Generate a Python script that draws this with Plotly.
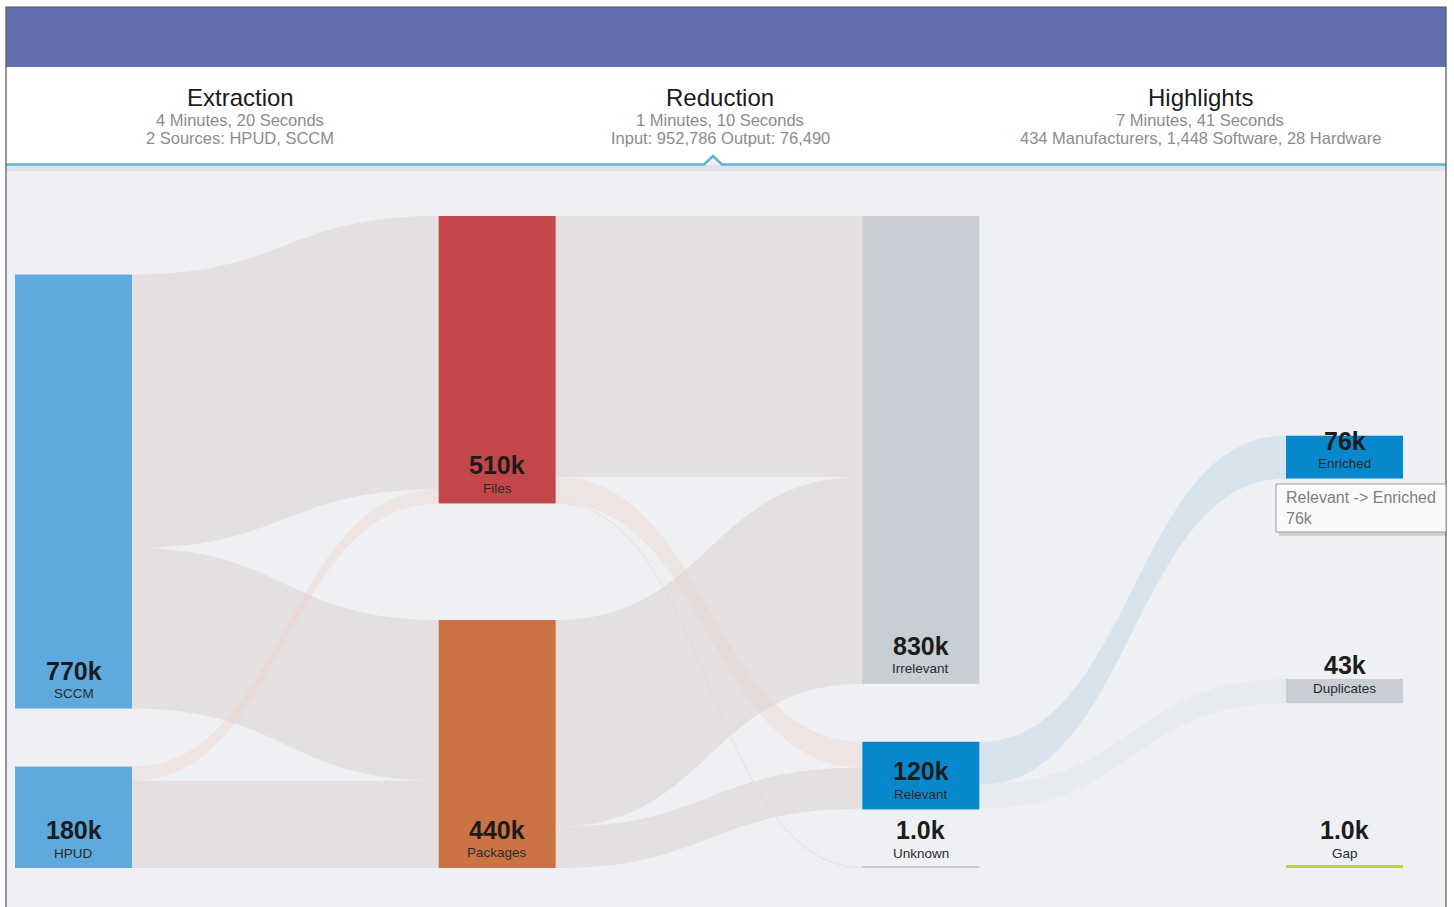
import plotly.graph_objects as go

# ------------------------------------------------------------------ data
node_names = ["SCCM", "HPUD", "Files", "Packages", "Irrelevant", "Relevant",
              "Unknown", "Enriched", "Duplicates", "Gap"]
node_stage = [0, 0, 1, 1, 2, 2, 2, 3, 3, 3]

link_source = ["SCCM", "SCCM", "HPUD", "HPUD",
               "Files", "Files", "Files", "Packages", "Packages",
               "Relevant", "Relevant", "Relevant"]
link_target = ["Files", "Packages", "Files", "Packages",
               "Irrelevant", "Relevant", "Unknown", "Irrelevant", "Relevant",
               "Enriched", "Duplicates", "Gap"]
link_value_k = [485, 285, 25, 155, 463, 46, 1, 367, 73, 76, 43, 1]

stage_titles = ["Extraction", "Reduction", "Highlights"]
stage_line1 = ["4 Minutes, 20 Seconds", "1 Minutes, 10 Seconds", "7 Minutes, 41 Seconds"]
stage_line2 = ["2 Sources: HPUD, SCCM", "Input: 952,786 Output: 76,490",
               "434 Manufacturers, 1,448 Software, 28 Hardware"]

tooltip_link = ("Relevant", "Enriched")

# ------------------------------------------------------------------ style / layout
FIG_W, FIG_H = 1454, 907
SK_X0, SK_X1, SK_Y0, SK_Y1 = 15, 1403, 216, 868
THICK, PAD = 117, 58
N_STAGES = 4
COLUMN_ALIGN = ["bottom", "spread", "top", "manual"]
MANUAL_ANCHOR = {"Enriched": ("top", 0.337), "Duplicates": ("top", 0.710), "Gap": ("bottom", 1.0)}

NODE_COLORS = ["#5eaadf", "#5eaadf", "#c3474a", "#cc7345", "#c9cdd4", "#0888cc",
               "#c8ccd2", "#0888cc", "#c9cdd4", "#b9cd48"]
# thin nodes get a visible accent rule along their bottom edge
ACCENT = {"Unknown": ("#c8ccd2", 2), "Gap": ("#b9cd48", 3)}
BASE = "rgba(220,209,207,0.55)"
PEACH = "rgba(238,208,196,0.38)"
LINK_COLORS = [BASE, BASE, PEACH, BASE, BASE, PEACH, "rgba(238,208,196,0.25)", BASE, BASE,
               "rgba(200,218,233,0.6)", "rgba(218,222,228,0.28)", "rgba(218,222,228,0.0)"]

FONT = "Arial, Liberation Sans, sans-serif"
BG = "#eef0f3"

# ------------------------------------------------------------------ derived geometry
idx = {n: i for i, n in enumerate(node_names)}
src = [idx[s] for s in link_source]
tgt = [idx[t] for t in link_target]
n_nodes = len(node_names)
v_in = [0] * n_nodes
v_out = [0] * n_nodes
for s, t, v in zip(src, tgt, link_value_k):
    v_out[s] += v
    v_in[t] += v
node_val = [max(a, b) for a, b in zip(v_in, v_out)]

Wd = SK_X1 - SK_X0
Hd = SK_Y1 - SK_Y0
cols = {c: [i for i, s in enumerate(node_stage) if s == c] for c in range(N_STAGES)}
ky = min((Hd - (len(ix) - 1) * PAD) / sum(node_val[i] for i in ix) for ix in cols.values())
h = [v * ky for v in node_val]
top = [0.0] * n_nodes
for c, ix in cols.items():
    mode = COLUMN_ALIGN[c]
    if mode == "top":
        y = 0.0
        for i in ix:
            top[i] = y
            y += h[i] + PAD
    elif mode == "bottom":
        y = Hd
        for i in reversed(ix):
            top[i] = y - h[i]
            y = top[i] - PAD
    elif mode == "spread":
        gap = (Hd - sum(h[i] for i in ix)) / max(len(ix) - 1, 1)
        y = 0.0
        for i in ix:
            top[i] = y
            y += h[i] + gap
    else:
        for i in ix:
            kind, f = MANUAL_ANCHOR[node_names[i]]
            top[i] = f * Hd if kind == "top" else f * Hd - h[i]

col_x0 = [c * (Wd - THICK) / (N_STAGES - 1) for c in range(N_STAGES)]
node_x = [(col_x0[node_stage[i]] + THICK / 2) / Wd for i in range(n_nodes)]
node_y = [(top[i] + h[i] / 2) / Hd for i in range(n_nodes)]


def fx(px):
    return px / FIG_W


def fy(py):
    return 1 - py / FIG_H


def fmt_k(v):
    return f"{v:.0f}k" if v >= 10 else f"{v:.1f}k"


fig = go.Figure(go.Sankey(
    arrangement="fixed",
    domain=dict(x=[fx(SK_X0), fx(SK_X1)], y=[fy(SK_Y1), fy(SK_Y0)]),
    node=dict(
        label=[""] * n_nodes,
        customdata=node_names,
        hovertemplate="%{customdata}: %{value}k<extra></extra>",
        color=NODE_COLORS,
        line=dict(color="rgba(0,0,0,0)", width=0),
        thickness=THICK,
        pad=PAD,
        align="left",
        x=node_x,
        y=node_y,
    ),
    link=dict(source=src, target=tgt, value=link_value_k, color=LINK_COLORS,
              hovertemplate="%{source.customdata} -> %{target.customdata}<br>%{value}k<extra></extra>"),
))

shapes = []
ann = []

# white outer margins and header
shapes.append(dict(type="rect", xref="paper", yref="paper", x0=0, x1=1, y0=fy(0), y1=fy(7),
                   fillcolor="white", line_width=0, layer="below"))
shapes.append(dict(type="rect", xref="paper", yref="paper", x0=0, x1=fx(6), y0=0, y1=1,
                   fillcolor="white", line_width=0, layer="below"))
shapes.append(dict(type="rect", xref="paper", yref="paper", x0=fx(1446), x1=1, y0=0, y1=1,
                   fillcolor="white", line_width=0, layer="below"))
shapes.append(dict(type="rect", xref="paper", yref="paper", x0=fx(6), x1=fx(1446), y0=fy(67), y1=fy(7),
                   fillcolor="#6470ae", line_width=0, layer="below"))
shapes.append(dict(type="rect", xref="paper", yref="paper", x0=fx(6), x1=fx(1446), y0=fy(164), y1=fy(67),
                   fillcolor="white", line_width=0, layer="below"))
# shadow under the blue rule
shapes.append(dict(type="rect", xref="paper", yref="paper", x0=fx(6), x1=fx(1446), y0=fy(171), y1=fy(165),
                   fillcolor="rgba(120,130,140,0.12)", line_width=0, layer="below"))
# caret fill
shapes.append(dict(type="path", xref="paper", yref="paper",
                   path=f"M {fx(704)} {fy(164.5)} L {fx(713)} {fy(156)} L {fx(722)} {fy(164.5)} Z",
                   fillcolor=BG, line_width=0, layer="below"))
# blue rule with caret
shapes.append(dict(type="path", xref="paper", yref="paper",
                   path=(f"M {fx(6)} {fy(164.5)} L {fx(704)} {fy(164.5)} L {fx(713)} {fy(156)} "
                         f"L {fx(722)} {fy(164.5)} L {fx(1446)} {fy(164.5)}"),
                   line=dict(color="#5ab4dc", width=2.5), layer="below"))
# frame
shapes.append(dict(type="path", xref="paper", yref="paper",
                   path=f"M {fx(6)} {fy(910)} L {fx(6)} {fy(7)} L {fx(1446)} {fy(7)} L {fx(1446)} {fy(910)}",
                   line=dict(color="#555555", width=1.2), layer="below"))

# stage headers
for i, (t, l1, l2) in enumerate(zip(stage_titles, stage_line1, stage_line2)):
    cx = 0 + (i + 0.5) * 480
    ann.append(dict(x=fx(cx), y=fy(97), text=t, showarrow=False, xanchor="center", yanchor="middle",
                    font=dict(family=FONT, size=24, color="#1a1a1a")))
    ann.append(dict(x=fx(cx), y=fy(120), text=l1, showarrow=False, xanchor="center", yanchor="middle",
                    font=dict(family=FONT, size=16.5, color="#8c8c8c")))
    ann.append(dict(x=fx(cx), y=fy(138), text=l2, showarrow=False, xanchor="center", yanchor="middle",
                    font=dict(family=FONT, size=16.5, color="#8c8c8c")))

# node labels (inside / above node bottoms) and accents for thin nodes
for i in range(n_nodes):
    x_left = SK_X0 + col_x0[node_stage[i]]
    cx = x_left + THICK / 2
    bottom = SK_Y0 + top[i] + h[i]
    ann.append(dict(x=fx(cx), y=fy(bottom - 38), text=f"<b>{fmt_k(node_val[i])}</b>", showarrow=False,
                    xanchor="center", yanchor="middle", font=dict(family=FONT, size=25, color="#1c1c1c")))
    ann.append(dict(x=fx(cx), y=fy(bottom - 15), text=node_names[i], showarrow=False,
                    xanchor="center", yanchor="middle", font=dict(family=FONT, size=13.5, color="#2a2a2a")))
    if node_names[i] in ACCENT:
        col, w = ACCENT[node_names[i]]
        shapes.append(dict(type="line", xref="paper", yref="paper",
                           x0=fx(x_left), x1=fx(x_left + THICK), y0=fy(bottom - w / 2), y1=fy(bottom - w / 2),
                           line=dict(color=col, width=w), layer="above"))

# tooltip box for the highlighted link
li = [k for k in range(len(src)) if link_source[k] == tooltip_link[0] and link_target[k] == tooltip_link[1]][0]
shapes.append(dict(type="rect", xref="paper", yref="paper", x0=fx(1279), x1=fx(1446), y0=fy(536), y1=fy(487),
                   fillcolor="rgba(0,0,0,0.12)", line_width=0, layer="above"))
shapes.append(dict(type="rect", xref="paper", yref="paper", x0=fx(1276), x1=fx(1446), y0=fy(532), y1=fy(484),
                   fillcolor="#fafafa", line=dict(color="#9a9a9a", width=1), layer="above"))
ann.append(dict(x=fx(1284), y=fy(508), xanchor="left", yanchor="middle", showarrow=False, align="left",
                text=f"{tooltip_link[0]} -> {tooltip_link[1]}<br>{fmt_k(link_value_k[li])}",
                font=dict(family=FONT, size=16, color="#7f7f7f")))

fig.update_layout(
    width=FIG_W, height=FIG_H,
    margin=dict(l=0, r=0, t=0, b=0),
    paper_bgcolor=BG, plot_bgcolor=BG,
    shapes=shapes, annotations=ann,
    showlegend=False,
)

fig.write_html("out.html", config={"displayModeBar": False},
               post_script="document.body.style.margin='0';document.body.style.overflow='hidden';")
